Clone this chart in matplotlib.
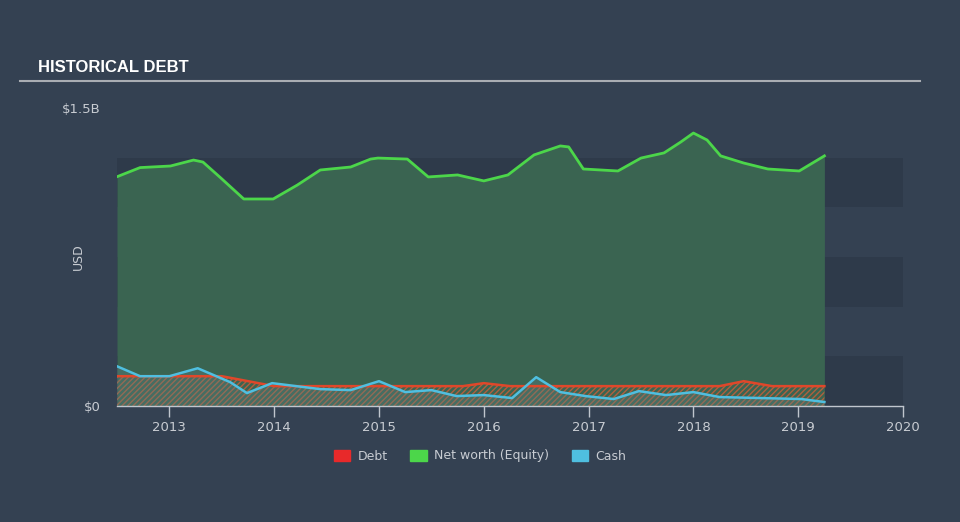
import numpy as np
import matplotlib
matplotlib.use("Agg")
import matplotlib.pyplot as plt
from matplotlib.patches import Patch

# data (values in USD billions)
eq_x = [2012.50, 2012.72, 2013.01, 2013.23, 2013.32, 2013.49, 2013.71, 2013.99, 2014.22,
        2014.44, 2014.73, 2014.92, 2014.99, 2015.27, 2015.47, 2015.75, 2016.00, 2016.23,
        2016.48, 2016.73, 2016.81, 2016.95, 2017.28, 2017.50, 2017.72, 2017.88, 2018.00,
        2018.13, 2018.26, 2018.48, 2018.71, 2019.01, 2019.25]
equity = [1.154, 1.200, 1.208, 1.238, 1.228, 1.148, 1.042, 1.042, 1.112,
          1.188, 1.203, 1.243, 1.248, 1.243, 1.153, 1.163, 1.133, 1.163,
          1.264, 1.309, 1.304, 1.193, 1.183, 1.248, 1.274, 1.329, 1.374,
          1.339, 1.259, 1.223, 1.193, 1.183, 1.259]

debt_x = [2012.5, 2013.0, 2013.5, 2013.75, 2014.0, 2014.5, 2015.0, 2015.5, 2015.8,
          2016.0, 2016.25, 2016.5, 2017.0, 2017.5, 2018.0, 2018.25, 2018.48, 2018.75, 2019.0, 2019.25]
debt = [0.15, 0.15, 0.15, 0.125, 0.10, 0.10, 0.10, 0.10, 0.10,
        0.115, 0.10, 0.10, 0.10, 0.10, 0.10, 0.10, 0.125, 0.10, 0.10, 0.10]

cash_x = [2012.5, 2012.72, 2013.0, 2013.27, 2013.58, 2013.74, 2013.98, 2014.44, 2014.73,
          2015.0, 2015.25, 2015.5, 2015.74, 2016.0, 2016.27, 2016.5, 2016.73, 2016.97,
          2017.24, 2017.48, 2017.74, 2018.0, 2018.25, 2018.64, 2019.03, 2019.25]
cash = [0.20, 0.15, 0.15, 0.19, 0.12, 0.065, 0.115, 0.085, 0.08,
        0.125, 0.07, 0.08, 0.05, 0.055, 0.04, 0.145, 0.07, 0.05,
        0.035, 0.075, 0.055, 0.07, 0.045, 0.04, 0.035, 0.02]

years = [2013, 2014, 2015, 2016, 2017, 2018, 2019, 2020]

bg = "#344152"
band = "#2e3a4a"
green = "#4cd64a"
red = "#e0472a"
blue = "#4fbfe0"
grey_txt = "#c8ccd2"

fig = plt.figure(figsize=(9.6, 5.22), dpi=100, facecolor=bg)
ax = fig.add_axes([117 / 960, 1 - 406 / 522, 786 / 960, 298 / 522])
ax.set_facecolor(bg)

# alternating bands
for lo in [0.0, 0.5, 1.0]:
    ax.fill_between([2012.5, 2020.0], lo, lo + 0.25, color=band, lw=0, zorder=0)

ax.fill_between(eq_x, 0, equity, color="#3a6451", lw=0, zorder=1)
ax.plot(eq_x, equity, color=green, lw=2, zorder=4, solid_joinstyle="round")

ax.fill_between(debt_x, 0, debt, facecolor="none", edgecolor="#b0603e", hatch="//////", lw=0, zorder=2)
ax.plot(debt_x, debt, color=red, lw=1.8, zorder=3, solid_joinstyle="round")

ax.fill_between(cash_x, 0, cash, facecolor="#5e7f82", alpha=0.35, lw=0, zorder=2)
ax.plot(cash_x, cash, color=blue, lw=1.8, zorder=5, solid_joinstyle="round")

ax.set_xlim(2012.5, 2020.0)
ax.set_ylim(0, 1.5)
for s in ["top", "right", "left"]:
    ax.spines[s].set_visible(False)
ax.spines["bottom"].set_color("#c0c6ce")
ax.spines["bottom"].set_linewidth(1)
ax.set_xticks(years)
ax.set_xticklabels([str(y) for y in years])
ax.tick_params(axis="x", colors="#c0c6ce", length=8, width=1, labelsize=9.5,
               labelcolor=grey_txt, pad=3)
ax.set_yticks([0, 1.5])
ax.set_yticklabels(["$0", "$1.5B"])
ax.tick_params(axis="y", length=0, labelsize=9.5, labelcolor=grey_txt, pad=12)
ax.set_ylabel("USD", color=grey_txt, fontsize=9, labelpad=-17)

# title and rule
fig.text(38 / 960, 1 - 68 / 522, "HISTORICAL DEBT", color="white", fontsize=12,
         fontweight="bold", family=["Liberation Sans", "DejaVu Sans"], va="center")
fig.add_artist(plt.Line2D([20 / 960, 920 / 960], [1 - 81 / 522, 1 - 81 / 522],
                          color="#a9adb3", lw=1.5))

handles = [Patch(color="#e8292a", label="Debt"),
           Patch(color=green, label="Net worth (Equity)"),
           Patch(color=blue, label="Cash")]
leg = fig.legend(handles=handles, loc="center", bbox_to_anchor=(480 / 960, 1 - 456 / 522),
                 ncol=3, frameon=False, fontsize=9, handlelength=1.3, handleheight=1.0,
                 columnspacing=1.8, handletextpad=0.6)
for t in leg.get_texts():
    t.set_color(grey_txt)

fig.savefig("out.png", dpi=100, facecolor=bg)
